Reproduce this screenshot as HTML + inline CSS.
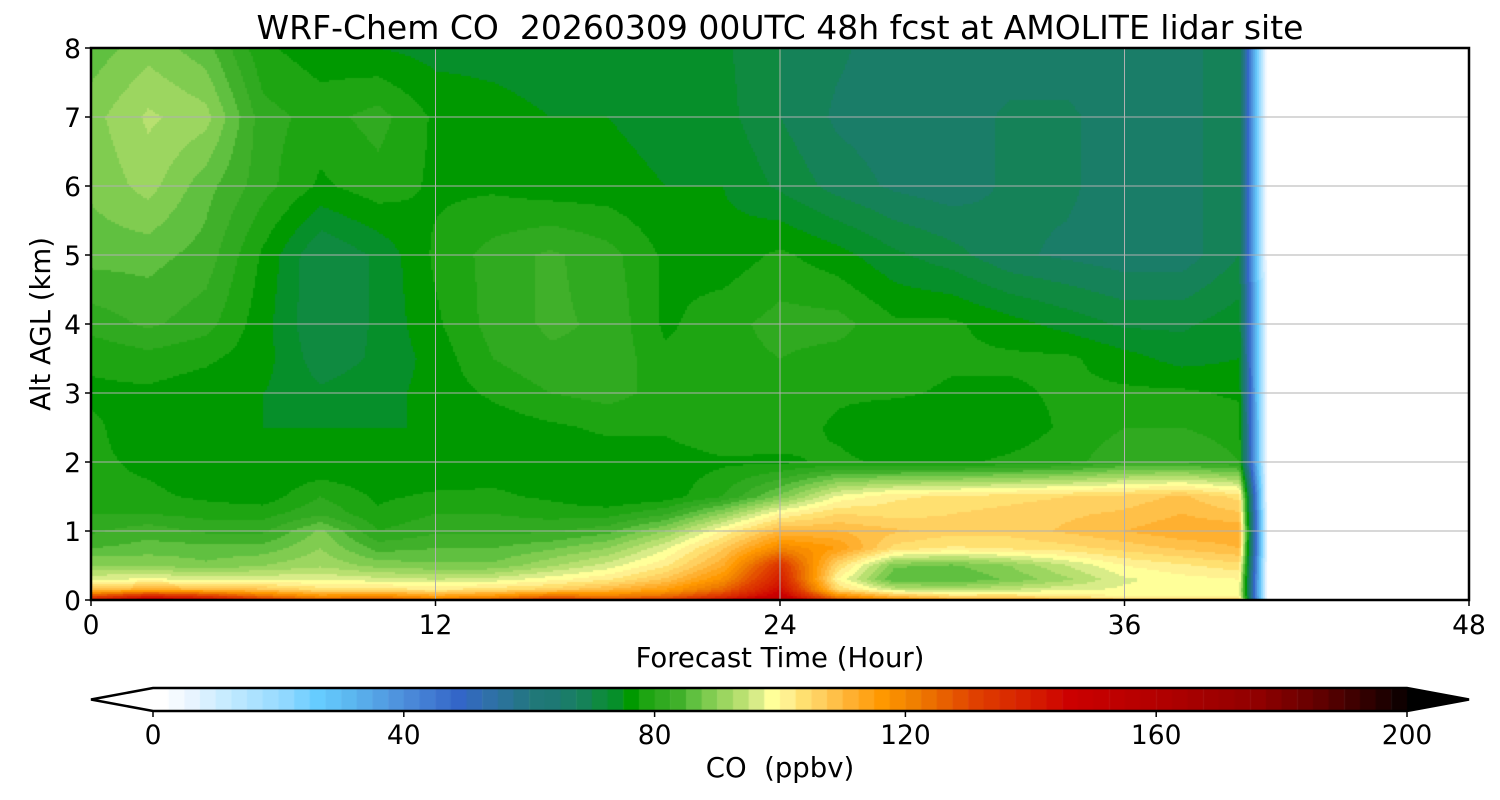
<!DOCTYPE html>
<html><head><meta charset="utf-8"><style>
body{margin:0;background:#fff;}
#wrap{position:relative;width:1500px;height:800px;overflow:hidden;font-family:"Liberation Sans","DejaVu Sans",sans-serif;}
canvas{position:absolute;left:0;top:0;}
svg{position:absolute;left:0;top:0;}
text{font-family:"DejaVu Sans","Liberation Sans",sans-serif;fill:#000;}
</style></head><body>
<div id="wrap">
<canvas id="cv" width="1500" height="800"></canvas>
<svg id="sv" width="1500" height="800"></svg>
</div>
<script>
// ---- data ----
const hours = [0,2,4,6,8,10,12,14,16,18,20,22,24,26,28,30,32,34,36,38,40,41];
const alts = [0,0.05,0.15,0.3,0.5,0.75,1.0,1.25,1.5,2,2.5,3,3.5,4,5,6,7,8];
const co_z0    = [140,150,145,135,128,130,125,128,135,132,135,145,160,130,120,115,115,112,110,110,110,0];
const co_z005  = [130,140,135,125,118,120,115,118,125,122,125,135,150,120,110,105,105,102,100,100,100,0];
const co_z015  = [108,112,110,108,104,104,102,104,106,110,115,125,145,105,95,93,95,97,98,98,99,0];
const co_z03   = [97,98,97,97,97,96,95,96,99,102,108,118,140,100,85,85,88,92,97,99,100,0];
const co_z05   = [90,90,88,90,92,89,88,88,92,96,102,112,135,105,88,87,90,95,100,102,104,0];
const co_z075  = [85,86,86,86,90,84,85,85,87,90,97,107,120,115,104,102,103,104,106,108,110,0];
const co_z1    = [82,84,82,82,88,80,82,82,82,84,90,100,110,110,108,106,106,108,110,112,112,0];
const co_z125  = [80,80,79,79,82,78,80,80,79,79,82,90,100,105,104,105,106,107,108,110,108,0];
const co_z15   = [78,78,77,76,80,77,78,78,77,75,76,80,88,98,102,103,104,105,106,108,104,0];
const co_z2    = [78,77,76,75,75,75,75,76,76,76,76,77,77,78,77,77,78,79,82,82,80,0];
const co_z25   = [78,76,76,75,75,75,75,76,77,78,78,80,79,77,75,75,76,78,80,80,79,0];
const co_z3    = [77,77,76,75,73,74,76,78,80,81,79,80,79,78,78,77,77,78,78,78,77,0];
const co_z35   = [78,79,78,76,71,73,76,80,82,82,78,79,80,79,79,78,78,78,76,74,75,0];
const co_z4    = [81,83,81,76,70,73,77,81,83,82,77,79,81,81,78,78,76,74,72,72,74,0];
const co_z5    = [86,86,84,77,70,73,78,81,83,81,77,76,78,76,73,71,68,67,66,66,70,0];
const co_z6    = [88,91,86,81,77,79,77,77,76,76,75,75,72,69,67,66,68,68,66,66,70,0];
const co_z7    = [89,93,91,81,79,81,77,76,75,75,74,73.5,70,67,66,66,68,68,66,66,70,0];
const co_z8    = [86,89,86,78,76,75,74,74,73.5,73.5,73,73,70,68,66,66,66,66,66,66,70,0];
const field = [co_z0,co_z005,co_z015,co_z03,co_z05,co_z075,co_z1,co_z125,co_z15,co_z2,co_z25,co_z3,co_z35,co_z4,co_z5,co_z6,co_z7,co_z8];
const xTicks = [0,12,24,36,48];
const yTicks = [0,1,2,3,4,5,6,7,8];
const cbTicks = [0,40,80,120,160,200];

// colormap anchors
const cmap = [[0,'#ffffff'],[5,'#e8f4ff'],[10,'#c8ecff'],[20,'#90d8ff'],[25,'#66ccff'],[30,'#5cb8f0'],[40,'#4a88d8'],[47.5,'#3366c8'],[52.5,'#2f70a8'],[60,'#207878'],[62.5,'#1e7874'],[65,'#1a7d68'],[67.5,'#158258'],[70,'#0f8a40'],[72.5,'#068f2a'],[75,'#009900'],[77.5,'#1ea512'],[80,'#30aa20'],[82.5,'#40b02a'],[85,'#60c040'],[87.5,'#80cc50'],[90,'#9cd660'],[92.5,'#b8e070'],[95,'#d8ec88'],[97.5,'#ffff99'],[100,'#fff090'],[102.5,'#ffe070'],[105,'#ffd060'],[110,'#ffb030'],[115,'#ff9800'],[120,'#f08000'],[125,'#e86000'],[130,'#e04000'],[140,'#d41800'],[145,'#cc0000'],[160,'#b00000'],[175,'#900000'],[185,'#600000'],[195,'#200000'],[200,'#000000']];

// ---- axes ----
const PX0=91,PX1=1469,PY0=48,PY1=600;
const xS=t=>PX0+(t/48)*(PX1-PX0);
const yS=z=>PY1-(z/8)*(PY1-PY0);
const CB0=153,CB1=1407;
const cS=v=>CB0+(v/200)*(CB1-CB0);

function hex(h){return [parseInt(h.substr(1,2),16),parseInt(h.substr(3,2),16),parseInt(h.substr(5,2),16)];}
function colorOf(v){
  if(v<=0)return 'rgb(255,255,255)';
  let q=Math.floor(v/2.5)*2.5; if(q>200)q=200;
  for(let i=0;i<cmap.length-1;i++){
    const a=cmap[i],b=cmap[i+1];
    if(q>=a[0]&&q<=b[0]){
      const f=(q-a[0])/(b[0]-a[0]);const ca=hex(a[1]),cb=hex(b[1]);
      return 'rgb('+ca.map((c,k)=>Math.round(c+(cb[k]-c)*f)).join(',')+')';
    }
  }
  return '#000';
}
function idx(arr,v){for(let i=0;i<arr.length-1;i++){if(v<=arr[i+1])return i;}return arr.length-2;}
function sample(t,z){
  if(t>hours[hours.length-1])return null;
  const i=idx(hours,t),j=idx(alts,z);
  const ft=(t-hours[i])/(hours[i+1]-hours[i]),fz=(z-alts[j])/(alts[j+1]-alts[j]);
  const a=field[j][i],b=field[j][i+1],c=field[j+1][i],d=field[j+1][i+1];
  return (a*(1-ft)+b*ft)*(1-fz)+(c*(1-ft)+d*ft)*fz;
}
const cv=document.getElementById('cv'),ctx=cv.getContext('2d');
const CS=2;
for(let px=PX0;px<PX1;px+=CS){
  const t=(px+CS/2-PX0)/(PX1-PX0)*48;
  for(let py=PY0;py<PY1;py+=CS){
    const z=(PY1-(py+CS/2))/(PY1-PY0)*8;
    const v=sample(t,z);
    if(v===null)continue;
    ctx.fillStyle=colorOf(v);
    ctx.fillRect(px,py,CS,CS);
  }
}
// colorbar
const CBY=688,CBH=23;
for(let v=0;v<200;v+=2.5){
  ctx.fillStyle=colorOf(v+0.01);
  ctx.fillRect(cS(v),CBY,cS(v+2.5)-cS(v)+0.5,CBH);
}
ctx.fillStyle='#fff';ctx.beginPath();ctx.moveTo(CB0,CBY);ctx.lineTo(91,CBY+CBH/2);ctx.lineTo(CB0,CBY+CBH);ctx.fill();
ctx.fillStyle='#000';ctx.beginPath();ctx.moveTo(CB1,CBY);ctx.lineTo(1469,CBY+CBH/2);ctx.lineTo(CB1,CBY+CBH);ctx.fill();

// ---- overlay ----
const NS='http://www.w3.org/2000/svg',sv=document.getElementById('sv');
function mk(tag,attrs,txt){const e=document.createElementNS(NS,tag);for(const k in attrs)e.setAttribute(k,attrs[k]);if(txt!==undefined)e.textContent=txt;sv.appendChild(e);return e;}
xTicks.forEach(t=>{
  if(t>0&&t<48){const g=mk('line',{x1:xS(t),x2:xS(t),y1:PY0,y2:PY1,stroke:'#b0b0b0','stroke-width':1});
  
  }
  const tk=mk('line',{x1:xS(t),x2:xS(t),y1:PY1,y2:PY1+6,stroke:'#000','stroke-width':1.5});
  
  
  const l=mk('text',{x:xS(t),y:PY1+34,'font-size':26.5,'text-anchor':'middle'},String(t));
  
  
});
yTicks.forEach(z=>{
  if(z>0&&z<8){const g=mk('line',{x1:PX0,x2:PX1,y1:yS(z),y2:yS(z),stroke:'#b0b0b0','stroke-width':1});
  
  }
  const tk=mk('line',{x1:PX0-6,x2:PX0,y1:yS(z),y2:yS(z),stroke:'#000','stroke-width':1.5});
  
  
  const l=mk('text',{x:PX0-10,y:yS(z)+10,'font-size':26.5,'text-anchor':'end'},String(z));
  
  
});
const fr=mk('rect',{x:PX0,y:PY0,width:PX1-PX0,height:PY1-PY0,fill:'none',stroke:'#000','stroke-width':2.5});


const ti=mk('text',{x:780,y:39,'font-size':33,'text-anchor':'middle'},'WRF-Chem CO  20260309 00UTC 48h fcst at AMOLITE lidar site');


ti.style.whiteSpace='pre';
const xl=mk('text',{x:780,y:667,'font-size':27.5,'text-anchor':'middle'},'Forecast Time (Hour)');


const yl=mk('text',{x:0,y:0,'font-size':27.5,'text-anchor':'middle',transform:'translate(50,324) rotate(-90)'},'Alt AGL (km)');


const cbf=mk('polygon',{points:`${CB0},${CBY} ${CB1},${CBY} 1469,${CBY+CBH/2} ${CB1},${CBY+CBH} ${CB0},${CBY+CBH} 91,${CBY+CBH/2}`,fill:'none',stroke:'#000','stroke-width':2.5});


cbTicks.forEach(v=>{
  const tk=mk('line',{x1:cS(v),x2:cS(v),y1:CBY+CBH,y2:CBY+CBH+6,stroke:'#000','stroke-width':1.5});
  
  
  const l=mk('text',{x:cS(v),y:744,'font-size':26.5,'text-anchor':'middle'},String(v));
  
  
});
const cl=mk('text',{x:780,y:777,'font-size':27.5,'text-anchor':'middle'},'CO  (ppbv)');


cl.style.whiteSpace='pre';
</script>
</body></html>
